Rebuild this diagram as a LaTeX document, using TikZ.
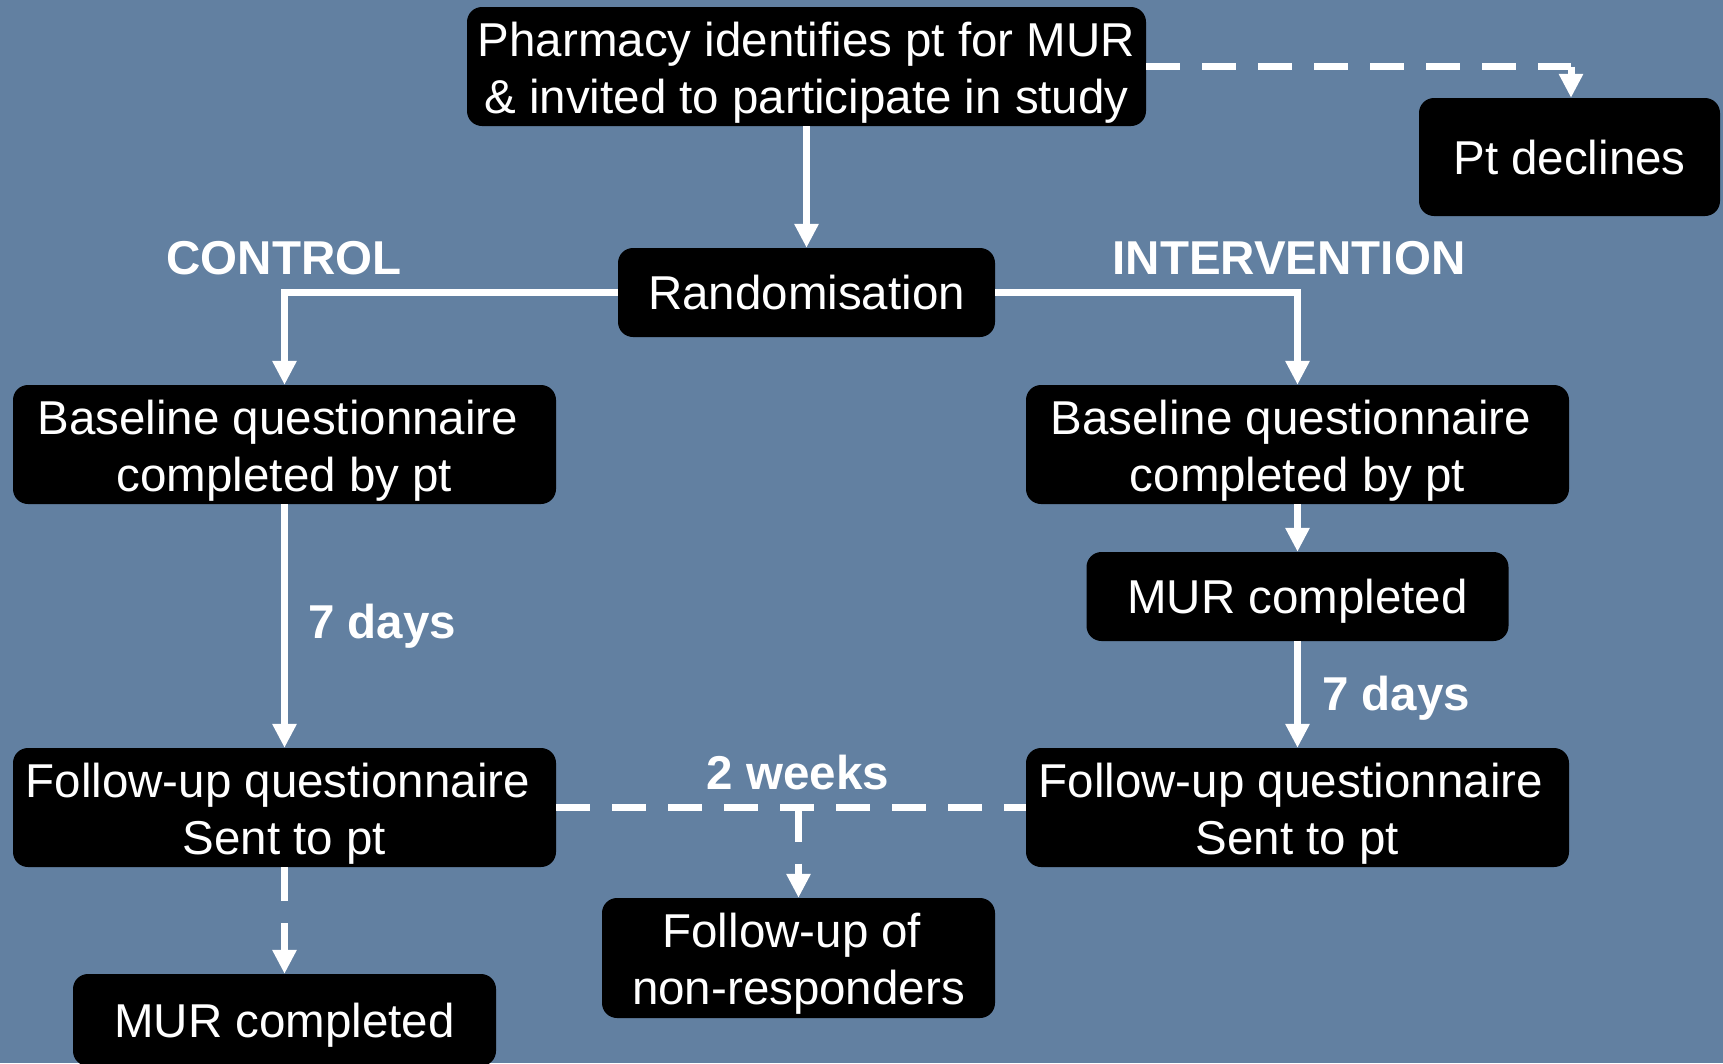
\documentclass[tikz,border=0pt]{standalone}
\usepackage{fontspec}
\setmainfont{Liberation Sans}
\usetikzlibrary{arrows.meta}
\definecolor{bgblue}{RGB}{98,128,161}
\newcommand{\tsp}{\makebox[0.278em]{}}
\tikzset{
  box/.style={fill=black, rounded corners=15pt, text=white, align=center,
    inner sep=0pt, font=\fontsize{47.5}{57}\selectfont,
    execute at begin node={\rule{0pt}{46pt}},
    execute at end node={\rule[-12pt]{0pt}{0pt}}},
  boxtwo/.style={box, execute at begin node={\rule{0pt}{105pt}}},
  lbl/.style={text=white, inner sep=0pt, font=\fontsize{47.5}{57}\selectfont\bfseries},
  arr/.style={draw=white, line width=7pt, -{Triangle[width=23pt,length=24pt]}},
  link/.style={draw=white, line width=7pt},
  darr/.style={arr, dash pattern=on 34pt off 22pt},
  dlink/.style={link, dash pattern=on 34pt off 22pt}
}
\begin{document}
\begin{tikzpicture}[x=1pt,y=-1pt]
\fill[bgblue] (0,0) rectangle (1723,1063);
\useasboundingbox (0,0) rectangle (1723,1063);

\node[boxtwo, minimum width=679pt, minimum height=119pt] (top) at (806.5,66.5)
  {Pharmacy identifies pt for MUR\\\& invited to participate in study};
\node[box, minimum width=301pt, minimum height=118pt] (decl) at (1569.5,157) {Pt declines};
\node[box, minimum width=377pt, minimum height=89pt] (rand) at (806.5,292.5) {Randomisation};
\node[boxtwo, minimum width=543pt, minimum height=119pt] (basel) at (284.5,444.5)
  {Baseline questionnaire\tsp\\completed by pt};
\node[boxtwo, minimum width=543pt, minimum height=119pt] (baser) at (1297.5,444.5)
  {Baseline questionnaire\tsp\\completed by pt};
\node[box, minimum width=422pt, minimum height=89pt] (murr) at (1297.5,596.5) {MUR completed};
\node[boxtwo, minimum width=543pt, minimum height=119pt] (ful) at (284.5,807.5)
  {Follow-up questionnaire\tsp\\Sent to pt};
\node[boxtwo, minimum width=543pt, minimum height=119pt] (fur) at (1297.5,807.5)
  {Follow-up questionnaire\tsp\\Sent to pt};
\node[boxtwo, minimum width=393pt, minimum height=120pt] (nonr) at (798.5,958)
  {Follow-up of\tsp\\non-responders};
\node[box, minimum width=423pt, minimum height=92pt] (murl) at (284.5,1020) {MUR completed};

\node[lbl] (ctrl) at (284,258) {CONTROL};
\node[lbl] (intv) at (1289,258) {INTERVENTION};
\node[lbl, anchor=west] (d7l) at (308,626) {7 days};
\node[lbl, anchor=west] (d7r) at (1322,698) {7 days};
\node[lbl] (w2) at (798,773) {2 weeks};

\coordinate (dc) at (1571,66.5);
\draw[dlink] (top.east) -- (dc);
\draw[darr] (dc) -- (dc |- decl.north);
\draw[arr] (top) -- (rand);
\draw[arr] (rand.west) -| (basel.north);
\draw[arr] (rand.east) -| (baser.north);
\draw[arr] (basel) -- (ful);
\draw[arr] (baser) -- (murr);
\draw[arr] (murr) -- (fur);
\draw[dlink] (ful.east) -- (fur.west);
\coordinate (br) at (nonr.north |- ful.east);
\draw[darr] (br) -- (nonr.north);
\draw[darr] (ful.south) -- (murl.north);
\end{tikzpicture}
\end{document}
